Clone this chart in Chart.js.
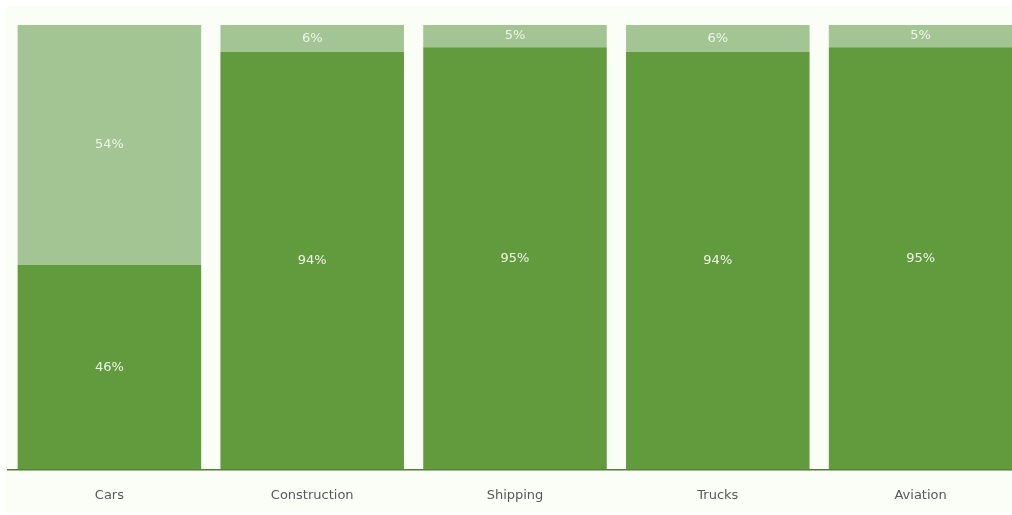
<!DOCTYPE html>
<html>
<head>
<meta charset="utf-8">
<script src="https://cdn.jsdelivr.net/npm/chart.js@4.4.1/dist/chart.umd.min.js"></script>
<style>
  html, body { margin: 0; padding: 0; background: #ffffff; overflow: hidden; }
  #wrap { width: 1022px; height: 515px; position: relative; }
</style>
</head>
<body>
<div id="wrap"><canvas id="chart"></canvas></div>
<script>
const categories = ['Cars', 'Construction', 'Shipping', 'Trucks', 'Aviation'];
const lowerShare = [46, 94, 95, 94, 95];
const upperShare = [54, 6, 5, 6, 5];

// paint the faint green panel behind the chart
const panelBackground = {
    id: 'panelBackground',
    beforeDraw(chart) {
        const ctx = chart.ctx;
        ctx.save();
        ctx.fillStyle = '#ffffff';
        ctx.fillRect(0, 0, chart.width, chart.height);
        ctx.fillStyle = '#fbfdf7';
        ctx.fillRect(5, 7, chart.width - 5, chart.height - 9);
        ctx.restore();
    }
};

// percentage labels in the middle of each segment
const segmentLabels = {
    id: 'segmentLabels',
    afterDatasetsDraw(chart) {
        const ctx = chart.ctx;
        ctx.save();
        ctx.fillStyle = '#eef4e8';
        ctx.font = '13px "DejaVu Sans", sans-serif';
        ctx.textAlign = 'center';
        ctx.textBaseline = 'middle';
        chart.data.datasets.forEach((ds, i) => {
            const meta = chart.getDatasetMeta(i);
            meta.data.forEach((bar, j) => {
                const mid = (bar.y + bar.base) / 2;
                ctx.fillText(ds.data[j] + '%', bar.x, mid);
            });
        });
        ctx.restore();
    }
};

new Chart(document.getElementById('chart'), {
    type: 'bar',
    data: {
        labels: categories,
        datasets: [{
            label: 'Lower',
            data: lowerShare,
            backgroundColor: '#629a3e',
            barPercentage: 0.905,
            categoryPercentage: 1
        }, {
            label: 'Upper',
            data: upperShare,
            backgroundColor: '#a3c593',
            barPercentage: 0.905,
            categoryPercentage: 1
        }]
    },
    options: {
        responsive: true,
        maintainAspectRatio: false,
        animation: false,
        layout: {
            padding: { left: 8, right: 0, top: 25, bottom: -6 }
        },
        plugins: {
            legend: { display: false },
            tooltip: { enabled: false }
        },
        scales: {
            x: {
                stacked: true,
                grid: { display: false, drawTicks: false },
                border: { display: true, color: '#4f7d35', width: 1.5 },
                ticks: {
                    color: '#595959',
                    padding: 18,
                    font: { family: '"DejaVu Sans", sans-serif', size: 13 }
                }
            },
            y: {
                stacked: true,
                display: false,
                min: 0,
                max: 100
            }
        }
    },
    plugins: [panelBackground, segmentLabels]
});
</script>
</body>
</html>
